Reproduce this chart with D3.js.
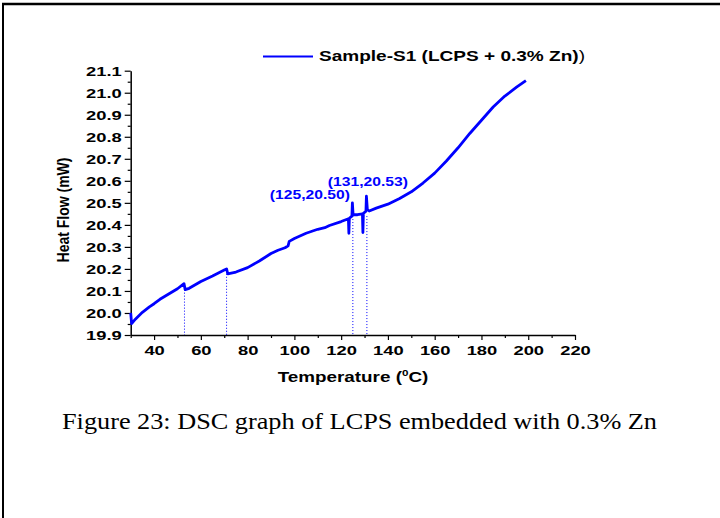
<!DOCTYPE html>
<html>
<head>
<meta charset="utf-8">
<script src="https://cdn.jsdelivr.net/npm/d3@7"></script>
<style>
  body { margin: 0; background: #fff; }
  svg { display: block; }
  .tick text { font-family: "Liberation Sans", Arial, sans-serif; font-weight: bold; font-size: 13.5px; fill: #000; }
</style>
</head>
<body>
<div id="chart"></div>
<script>
// DSC curve
var temperature = [30, 30.4, 32, 35, 38, 40, 42.5, 45, 50, 52.8, 53.3, 55, 60, 65, 70, 71, 71.5, 75, 80, 85, 90, 93, 96, 97.3, 97.8, 100, 105, 110, 113, 115, 120, 123.1, 123.3, 123.5, 124.6, 124.8, 125.1, 127, 129.1, 129.3, 129.5, 130.6, 130.8, 131.2, 132, 135, 140, 145, 150, 155, 160, 165, 170, 175, 180, 185, 190, 195, 199];
var heatFlow = [20.00, 19.952, 19.972, 20.003, 20.028, 20.042, 20.062, 20.078, 20.11, 20.133, 20.106, 20.112, 20.143, 20.168, 20.195, 20.2, 20.178, 20.186, 20.206, 20.236, 20.27, 20.285, 20.296, 20.305, 20.325, 20.338, 20.362, 20.38, 20.387, 20.397, 20.415, 20.428, 20.362, 20.43, 20.44, 20.50, 20.447, 20.446, 20.45, 20.365, 20.452, 20.462, 20.53, 20.47, 20.463, 20.476, 20.494, 20.52, 20.55, 20.59, 20.635, 20.69, 20.75, 20.815, 20.875, 20.935, 20.985, 21.025, 21.055];

var xTicks = [40, 60, 80, 100, 120, 140, 160, 180, 200, 220];
var xMinor = [30, 50, 70, 90, 110, 130, 150, 170, 190, 210];
var yTicks = [19.9, 20.0, 20.1, 20.2, 20.3, 20.4, 20.5, 20.6, 20.7, 20.8, 20.9, 21.0, 21.1];
var yMinor = [19.95, 20.05, 20.15, 20.25, 20.35, 20.45, 20.55, 20.65, 20.75, 20.85, 20.95, 21.05];

// dotted guides under the steps and peaks
var guideTemps = [53, 71, 125, 131];
var guideFlows = [20.106, 20.178, 20.44, 20.44];

var peakTemps = [125, 131];
var peakFlows = [20.50, 20.53];
var peakLabels = ["(125,20.50)", "(131,20.53)"];

var seriesName = "Sample-S1 (LCPS + 0.3% Zn)";
var caption = "Figure 23: DSC graph of LCPS embedded with 0.3% Zn";

function init() {
    var w = 720;
    var h = 518;
    var sx = 1.36; // the source image is stretched sideways
    var blue = "#0000ff";
    var font = "'Liberation Sans', Arial, sans-serif";

    var svg = d3.select("#chart")
        .append("svg")
        .attr("width", w)
        .attr("height", h);

    // table cell border (top and left)
    svg.append("line")
        .attr("x1", 2).attr("y1", 4).attr("x2", w).attr("y2", 4)
        .style("stroke", "#000").style("stroke-width", 2.5);
    svg.append("line")
        .attr("x1", 3).attr("y1", 3).attr("x2", 3).attr("y2", h)
        .style("stroke", "#000").style("stroke-width", 2);

    var xScale = d3.scaleLinear().domain([30, 220]).range([130.7, 575]);
    var yScale = d3.scaleLinear().domain([19.9, 21.1]).range([335, 70.7]);

    // minor ticks
    svg.append("g")
        .attr("transform", "translate(0," + yScale(19.9) + ")")
        .call(d3.axisBottom(xScale).tickValues(xMinor).tickSize(3).tickFormat(""))
        .call(function (g) { g.select(".domain").remove(); });
    svg.append("g")
        .attr("transform", "translate(" + xScale(30) + ",0)")
        .call(d3.axisLeft(yScale).tickValues(yMinor).tickSize(3).tickFormat(""))
        .call(function (g) { g.select(".domain").remove(); });

    svg.append("g")
        .attr("transform", "translate(0," + yScale(19.9) + ")")
        .call(d3.axisBottom(xScale).tickValues(xTicks).tickSize(5).tickPadding(5).tickSizeOuter(0).tickFormat(d3.format("d")));
    svg.append("g")
        .attr("transform", "translate(" + xScale(30) + ",0)")
        .call(d3.axisLeft(yScale).tickValues(yTicks).tickSize(6).tickPadding(3).tickSizeOuter(0).tickFormat(d3.format(".1f")));

    svg.selectAll(".domain").style("stroke-width", 1.5);
    svg.selectAll(".tick line").style("stroke-width", 1.2);

    // stretch tick labels sideways
    svg.selectAll(".tick text").each(function () {
        var t = d3.select(this);
        var x = +t.attr("x") || 0;
        t.attr("x", x / sx).attr("transform", "scale(" + sx + ",1)");
    });

    // dotted guides
    svg.selectAll(".guide")
        .data(guideTemps)
        .enter().append("line")
        .attr("class", "guide")
        .attr("x1", function (d) { return xScale(d); })
        .attr("x2", function (d) { return xScale(d); })
        .attr("y1", function (d, i) { return yScale(guideFlows[i]); })
        .attr("y2", yScale(19.9))
        .style("stroke", blue)
        .style("stroke-width", 1)
        .style("stroke-dasharray", "1,2");

    var data = temperature.map(function (t, i) { return { t: t, v: heatFlow[i] }; });
    var line = d3.line()
        .x(function (d) { return xScale(d.t); })
        .y(function (d) { return yScale(d.v); });

    svg.append("path")
        .datum(data)
        .attr("d", line)
        .style("fill", "none")
        .style("stroke", blue)
        .style("stroke-width", 2.8)
        .style("stroke-linejoin", "round");

    // peak labels
    var lblX = [xScale(peakTemps[0]) - 43, xScale(peakTemps[1]) + 1];
    var lblY = [yScale(peakFlows[0]) - 4, yScale(peakFlows[1]) - 10];
    peakLabels.forEach(function (s, i) {
        svg.append("text")
            .attr("x", lblX[i])
            .attr("y", lblY[i])
            .attr("text-anchor", "middle")
            .attr("textLength", 80)
            .attr("lengthAdjust", "spacingAndGlyphs")
            .style("font-family", font)
            .style("font-weight", "bold")
            .style("font-size", "12.5px")
            .style("fill", blue)
            .text(s);
    });

    // legend
    svg.append("line")
        .attr("x1", 263).attr("x2", 313).attr("y1", 56.5).attr("y2", 56.5)
        .style("stroke", blue).style("stroke-width", 2);
    var leg = svg.append("text")
        .attr("x", 319).attr("y", 61)
        .attr("textLength", 266)
        .attr("lengthAdjust", "spacingAndGlyphs")
        .style("font-family", font)
        .style("font-size", "14px")
        .style("fill", "#000");
    leg.append("tspan").style("font-weight", "bold").text(seriesName);
    leg.append("tspan").text(")");

    // axis titles
    svg.append("text")
        .attr("transform", "translate(69,210) scale(1.2,1) rotate(-90)")
        .attr("text-anchor", "middle")
        .style("font-family", font)
        .style("font-weight", "bold")
        .style("font-size", "14px")
        .text("Heat Flow (mW)");

    var xt = svg.append("text")
        .attr("transform", "translate(353,382) scale(1.3,1)")
        .attr("text-anchor", "middle")
        .style("font-family", font)
        .style("font-weight", "bold")
        .style("font-size", "14.5px");
    xt.append("tspan").text("Temperature (");
    xt.append("tspan").attr("dy", -6).style("font-size", "9px").text("0");
    xt.append("tspan").attr("dy", 6).text("C)");

    // caption
    svg.append("text")
        .attr("x", 62).attr("y", 429)
        .attr("textLength", 595)
        .attr("lengthAdjust", "spacingAndGlyphs")
        .style("font-family", "'Liberation Serif', 'Times New Roman', serif")
        .style("font-size", "23px")
        .text(caption);
}

window.onload = init;
</script>
</body>
</html>
